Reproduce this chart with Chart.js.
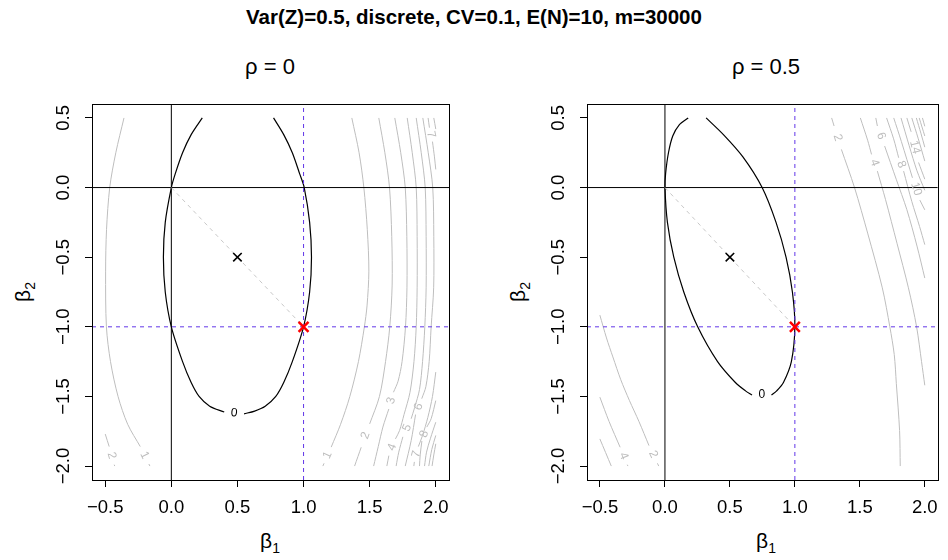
<!DOCTYPE html>
<html>
<head>
<meta charset="utf-8">
<script src="https://cdn.jsdelivr.net/npm/chart.js@4.4.1/dist/chart.umd.min.js"></script>
<style>
body{margin:0;background:#fff;width:948px;height:560px;position:relative;overflow:hidden;font-family:"Liberation Sans",Arial,sans-serif}
.panel{position:absolute;top:0;width:474px;height:560px}
.t{position:absolute;white-space:nowrap;line-height:1;color:#000}
.ylab{transform:translate(-50%,-50%) rotate(-90deg)}
.xlab{transform:translateX(-50%)}
.t sub{font-size:14px;vertical-align:baseline;position:relative;top:5px}
</style>
</head>
<body>
<div class="t" style="left:0;width:948px;text-align:center;top:7px;font-size:20.5px;font-weight:bold">Var(Z)=0.5, discrete, CV=0.1, E(N)=10, m=30000</div>
<div class="t xlab" style="left:270px;top:56px;font-size:22px">&rho; = 0</div>
<div class="t xlab" style="left:766px;top:56px;font-size:22px">&rho; = 0.5</div>
<div class="t xlab" style="left:270px;top:530px;font-size:21px">&beta;<sub>1</sub></div>
<div class="t xlab" style="left:766px;top:530px;font-size:21px">&beta;<sub>1</sub></div>
<div class="t ylab" style="left:22px;top:292px;font-size:21px">&beta;<sub>2</sub></div>
<div class="t ylab" style="left:517px;top:292px;font-size:21px">&beta;<sub>2</sub></div>

<div class="panel" style="left:0"><canvas id="left" width="474" height="560"></canvas></div>
<div class="panel" style="left:474px"><canvas id="right" width="474" height="560"></canvas></div>

<script>
// axes
const xRange = [-0.6, 2.1];
const yRange = [-2.1, 0.6];
const xTicks = [-0.5, 0, 0.5, 1, 1.5, 2];
const yTicks = [-2, -1.5, -1, -0.5, 0, 0.5];

// marked points
const truth = [1, -1];
const middle = [0.5, -0.5];

// ---- rho = 0 : contour lines (null = gap where the level label sits)
const l0 = [[0.234,0.5],[0.15,0.38],[0.085,0.25],[0.03,0.1],[0,0],[-0.046,-0.25],[-0.06,-0.5],[-0.046,-0.75],[0,-1],[0.085,-1.25],[0.15,-1.4],[0.21,-1.5],[0.29,-1.57],[0.40,-1.612],null,[0.55,-1.625],[0.63,-1.605],[0.71,-1.57],[0.79,-1.5],[0.85,-1.4],[0.915,-1.25],[1,-1],[1.046,-0.75],[1.06,-0.5],[1.046,-0.25],[1.005,0],[0.97,0.1],[0.915,0.25],[0.85,0.38],[0.773,0.5]];
const lL1 = [[-0.358,0.5],[-0.42,0.25],[-0.466,0],[-0.49,-0.3],[-0.497,-0.6],[-0.491,-1],[-0.46,-1.25],[-0.403,-1.5],[-0.33,-1.7],[-0.235,-1.86],null,[-0.17,-1.985],[-0.162,-2]];
const lL2 = [[-0.5,-1.77],[-0.47,-1.86],null,[-0.432,-1.99],[-0.428,-2]];
const lR1 = [[1.365,0.5],[1.42,0.25],[1.456,0],[1.482,-0.3],[1.494,-0.6],[1.48,-0.85],[1.46,-1],[1.415,-1.25],[1.35,-1.5],[1.28,-1.7],[1.209,-1.864],null,[1.155,-1.98],[1.146,-2]];
const lR2 = [[1.569,0.5],[1.615,0.25],[1.65,0],[1.667,-0.35],[1.67,-0.7],[1.652,-1],[1.62,-1.25],[1.574,-1.5],[1.5,-1.697],null,[1.436,-1.865],[1.386,-2]];
const lR3 = [[1.69,0.5],[1.735,0.25],[1.769,0],[1.781,-0.35],[1.782,-0.72],[1.771,-1],[1.745,-1.25],[1.715,-1.39],[1.68,-1.47],null,[1.645,-1.59],[1.6,-1.72],[1.565,-1.86],[1.53,-2]];
const lR4 = [[1.784,0.5],[1.822,0.25],[1.852,0],[1.859,-0.35],[1.859,-0.72],[1.852,-1],[1.835,-1.25],[1.805,-1.47],[1.76,-1.63],[1.726,-1.745],[1.695,-1.805],null,[1.645,-1.925],[1.63,-2]];
const lR5 = [[1.852,0.5],[1.89,0.25],[1.92,0],[1.927,-0.35],[1.927,-0.72],[1.917,-1],[1.9,-1.25],[1.877,-1.45],[1.84,-1.58],[1.814,-1.66],null,[1.751,-1.79],[1.72,-1.9],[1.7,-2]];
const lR6 = [[1.902,0.5],[1.943,0.25],[1.977,0],[1.985,-0.35],[1.984,-0.72],[1.965,-1],[1.95,-1.25],[1.925,-1.43],[1.894,-1.516],null,[1.847,-1.63],[1.814,-1.817],[1.769,-2]];
const lR7a = [[1.942,0.5],[1.952,0.43],null,[1.975,0.33],[1.99,0.22],[2,0.13]];
const lR8a = [[1.985,0.5],[2,0.42]];
const lR7b = [[2,-1.325],[1.975,-1.5],[1.94,-1.65],[1.9,-1.78],[1.868,-1.86],null,[1.838,-1.97],[1.834,-2]];
const lR8b = [[2,-1.53],[1.965,-1.66],[1.932,-1.72],null,[1.895,-1.82],[1.882,-1.92],[1.877,-2]];
const lR9 = [[2,-1.685],[1.96,-1.8],[1.93,-1.9],[1.915,-2]];
const lR10 = [[2,-1.78],[1.97,-1.88],[1.947,-2]];
const lR11 = [[2,-1.84],[1.985,-1.92],[1.972,-2]];

// ---- rho = 0.5 : contour lines
const r0 = [[0.179,0.5],[0.11,0.45],[0.06,0.37],[0.027,0.25],[0.005,0.1],[0,0],[0.019,-0.25],[0.068,-0.5],[0.145,-0.75],[0.252,-1],[0.405,-1.25],[0.542,-1.4],[0.62,-1.46],[0.67,-1.49],null,[0.82,-1.49],[0.86,-1.46],[0.912,-1.4],[0.973,-1.25],[1,-1],[0.981,-0.75],[0.932,-0.5],[0.855,-0.25],[0.748,0],[0.6,0.22],[0.45,0.38],[0.317,0.5]];
const rR2 = [[1.283,0.5],[1.302,0.442],null,[1.358,0.274],[1.459,0],[1.56,-0.327],[1.673,-0.72],[1.731,-1],[1.765,-1.2],[1.781,-1.408],[1.806,-1.745],[1.811,-2]];
const rR4 = [[1.504,0.5],[1.56,0.34],[1.59,0.238],null,[1.635,0.118],[1.698,-0.087],[1.786,-0.4],[1.874,-0.72],[1.937,-1],[1.975,-1.25],[2,-1.42]];
const rR6 = [[1.623,0.5],[1.635,0.442],null,[1.691,0.298],[1.78,0.06],[1.862,-0.159],[1.94,-0.42],[2,-0.65]];
const rR8 = [[1.706,0.5],[1.76,0.35],[1.799,0.214],null,[1.837,0.118],[1.9,-0.1],[1.96,-0.28],[2,-0.41]];
const rR10 = [[1.761,0.5],[1.82,0.33],[1.905,0.07],null,[1.962,-0.09],[2,-0.16]];
const rR12 = [[1.817,0.5],[1.88,0.3],[1.94,0.12],[2,-0.02]];
const rR14 = [[1.862,0.5],[1.895,0.4],null,[1.952,0.18],[2,0.06]];
const rR16 = [[1.9,0.5],[1.95,0.35],[2,0.19]];
const rR18 = [[1.935,0.5],[1.97,0.39],[2,0.29]];
const rR20 = [[1.957,0.5],[2,0.37]];
const rR22 = [[1.982,0.5],[2,0.44]];
const rL2 = [[-0.501,-0.916],[-0.45,-1.08],[-0.401,-1.216],[-0.34,-1.38],[-0.274,-1.528],[-0.2,-1.68],[-0.123,-1.853],null,[-0.058,-1.98],[-0.048,-2]];
const rL4 = [[-0.501,-1.505],[-0.43,-1.68],[-0.345,-1.865],null,[-0.29,-1.99],[-0.285,-2]];
const rL6 = [[-0.501,-1.805],[-0.413,-2]];

const leftLevels = [[lL1,'1'],[lL2,'2'],[lR1,'1'],[lR2,'2'],[lR3,'3'],[lR4,'4'],[lR5,'5'],[lR6,'6'],[lR7a,'7'],[lR8a,'8'],[lR7b,'7'],[lR8b,'8'],[lR9,'9'],[lR10,'10'],[lR11,'11']];
const rightLevels = [[rR2,'2'],[rR4,'4'],[rR6,'6'],[rR8,'8'],[rR10,'10'],[rR12,'12'],[rR14,'14'],[rR16,'16'],[rR18,'18'],[rR20,'20'],[rR22,'22'],[rL2,'2'],[rL4,'4'],[rL6,'6']];

const FONT = '"Liberation Sans", Arial, sans-serif';
Chart.defaults.font.family = FONT;
const GRAY = '#bebebe';
const DASH = '#6236e8';

function fmt(v) {
    return (v < 0 ? '\u2212' : '') + Math.abs(v).toFixed(1);
}
function toXY(arr) {
    return arr.map(p => p ? {x: p[0], y: p[1]} : {x: null, y: null});
}

// level labels go into the gaps of each contour, turned along the line
const contourLabels = {
    id: 'contourLabels',
    afterDatasetsDraw(chart) {
        const {ctx, scales: {x, y}} = chart;
        ctx.save();
        ctx.font = '12px ' + FONT;
        ctx.textAlign = 'center';
        ctx.textBaseline = 'middle';
        chart.data.datasets.forEach(ds => {
            if (!ds.level) return;
            const pts = ds.data;
            for (let k = 1; k < pts.length - 1; k++) {
                if (pts[k].x !== null) continue;
                const a = pts[k - 1], b = pts[k + 1];
                const ax = x.getPixelForValue(a.x), ay = y.getPixelForValue(a.y);
                const bx = x.getPixelForValue(b.x), by = y.getPixelForValue(b.y);
                let ang = Math.atan2(by - ay, bx - ax);
                if (ang > Math.PI / 2) ang -= Math.PI;
                if (ang < -Math.PI / 2) ang += Math.PI;
                ctx.save();
                ctx.translate((ax + bx) / 2, (ay + by) / 2);
                ctx.rotate(ang);
                ctx.fillStyle = ds.borderColor;
                ctx.fillText(ds.level, 0, 0);
                ctx.restore();
            }
        });
        ctx.restore();
    }
};

// R style box and vertical y tick labels
const frame = {
    id: 'frame',
    afterDraw(chart) {
        const {ctx, chartArea: a, scales: {y}} = chart;
        ctx.save();
        ctx.strokeStyle = '#000';
        ctx.lineWidth = 1;
        ctx.strokeRect(Math.round(a.left) + 0.5, Math.round(a.top) + 0.5, Math.round(a.right - a.left), Math.round(a.bottom - a.top));
        ctx.font = '18.5px ' + FONT;
        ctx.fillStyle = '#000';
        ctx.textAlign = 'center';
        ctx.textBaseline = 'middle';
        yTicks.forEach(v => {
            ctx.save();
            ctx.translate(a.left - 28, y.getPixelForValue(v));
            ctx.rotate(-Math.PI / 2);
            ctx.fillText(fmt(v), 0, 0);
            ctx.restore();
        });
        ctx.restore();
    }
};

function line(data, color, width, dash) {
    return {data: toXY(data), showLine: true, borderColor: color, borderWidth: width,
        borderDash: dash || [], pointRadius: 0, fill: false, tension: 0};
}

function makePanel(id, ellipse, levels, area) {
    const datasets = [
        {data: toXY([truth]), pointStyle: 'crossRot', pointRadius: 7, borderWidth: 2.5, borderColor: 'red', showLine: false},
        {data: toXY([middle]), pointStyle: 'crossRot', pointRadius: 6, borderWidth: 1.6, borderColor: '#000', showLine: false},
        line([[0, 0], truth], '#c8c8c8', 1, [4, 4]),
        line([[truth[0], yRange[0]], [truth[0], yRange[1]]], DASH, 1, [4, 4]),
        line([[xRange[0], truth[1]], [xRange[1], truth[1]]], DASH, 1, [4, 4]),
        line([[0, yRange[0]], [0, yRange[1]]], '#000', 1),
        line([[xRange[0], 0], [xRange[1], 0]], '#000', 1),
        Object.assign(line(ellipse, '#000', 1.2), {level: '0', tension: 0.3})
    ];
    levels.forEach(([pts, lev]) => {
        datasets.push(Object.assign(line(pts, GRAY, 1), {level: lev, tension: 0.3}));
    });

    new Chart(document.getElementById(id), {
        type: 'scatter',
        data: {datasets: datasets},
        options: {
            responsive: false,
            animation: false,
            events: [],
            layout: {padding: {left: area[0] - 10, right: 474 - area[1], top: 104, bottom: 30}},
            plugins: {legend: {display: false}, tooltip: {enabled: false}, title: {display: false}},
            scales: {
                x: {
                    type: 'linear', min: xRange[0], max: xRange[1],
                    afterFit: s => { s.height = 50; },
                    afterBuildTicks: s => { s.ticks = xTicks.map(v => ({value: v})); },
                    grid: {drawOnChartArea: false, drawTicks: true, tickLength: 7, color: '#000', lineWidth: 1},
                    border: {display: false},
                    ticks: {callback: fmt, color: '#000', font: {size: 18.5}, padding: 10, maxRotation: 0, autoSkip: false}
                },
                y: {
                    type: 'linear', min: yRange[0], max: yRange[1],
                    afterFit: s => { s.width = 10; },
                    afterBuildTicks: s => { s.ticks = yTicks.map(v => ({value: v})); },
                    grid: {drawOnChartArea: false, drawTicks: true, tickLength: 7, color: '#000', lineWidth: 1},
                    border: {display: false},
                    ticks: {display: false, autoSkip: false}
                }
            }
        },
        plugins: [contourLabels, frame]
    });
}

makePanel('left', l0, leftLevels, [92, 449]);
makePanel('right', r0, rightLevels, [113, 470]);
</script>
</body>
</html>
